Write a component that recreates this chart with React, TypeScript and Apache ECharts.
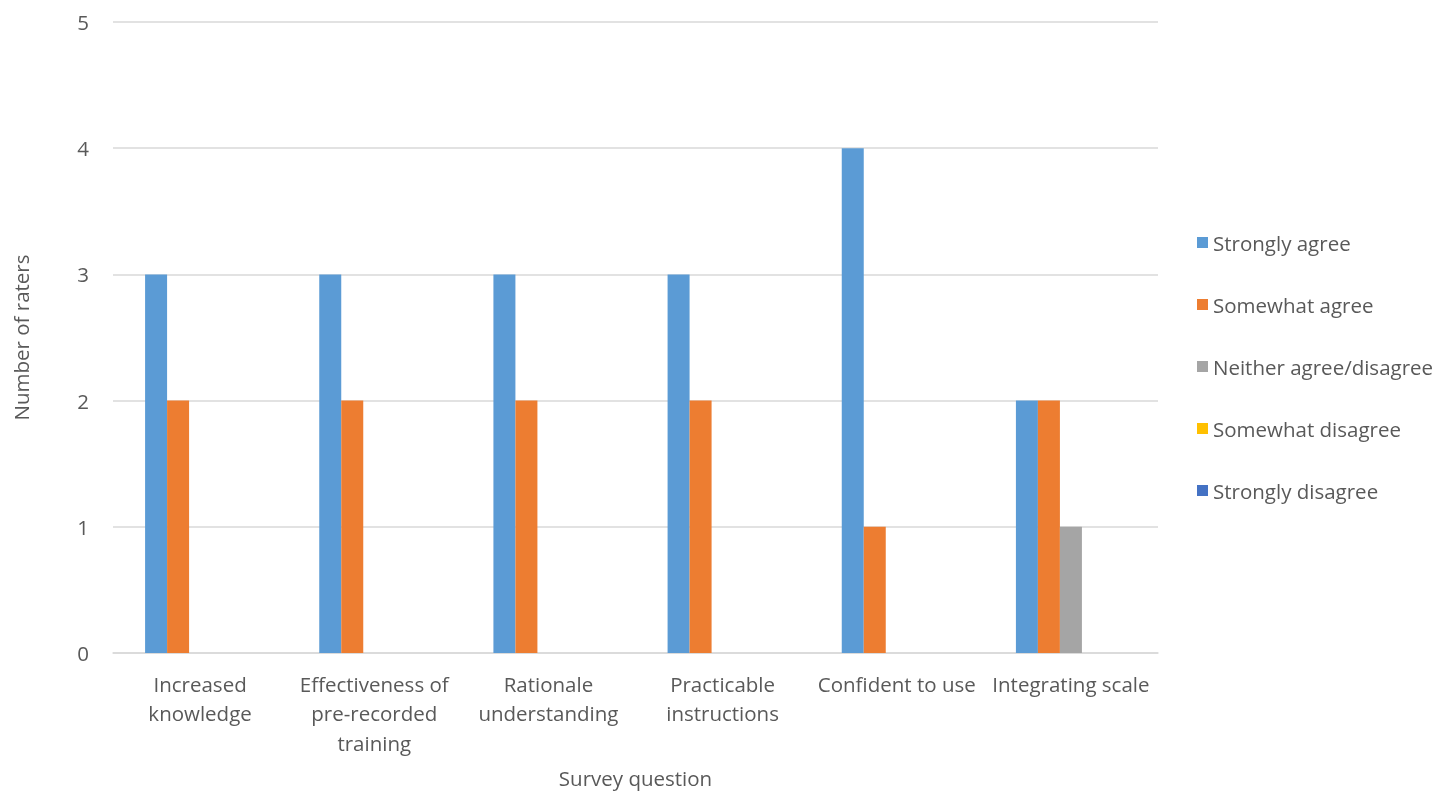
import React, { useEffect, useRef } from "react";
import * as echarts from "echarts";

const categories = [
  "Increased\nknowledge",
  "Effectiveness of\npre-recorded\ntraining",
  "Rationale\nunderstanding",
  "Practicable\ninstructions",
  "Confident to use",
  "Integrating scale",
];
const seriesNames = [
  "Strongly agree",
  "Somewhat agree",
  "Neither agree/disagree",
  "Somewhat disagree",
  "Strongly disagree",
];
const stronglyAgree = [3, 3, 3, 3, 4, 2];
const somewhatAgree = [2, 2, 2, 2, 1, 2];
const neither = [0, 0, 0, 0, 0, 1];
const somewhatDisagree = [0, 0, 0, 0, 0, 0];
const stronglyDisagree = [0, 0, 0, 0, 0, 0];
const colors = ["#5B9BD5", "#ED7D31", "#A5A5A5", "#FFC000", "#4472C4"];

export default function App() {
  const ref = useRef<HTMLDivElement>(null);
  useEffect(() => {
    document.body.style.margin = "0";
    document.body.style.overflow = "hidden";
    const chart = echarts.init(ref.current!, undefined, { renderer: "svg" });
    const font = "'Open Sans', sans-serif";
    const data = [stronglyAgree, somewhatAgree, neither, somewhatDisagree, stronglyDisagree];
    chart.setOption({
      animation: false,
      color: colors,
      textStyle: { fontFamily: font },
      grid: {
        left: 113,
        right: 289,
        top: 22,
        bottom: 138,
        containLabel: false,
        outerBoundsMode: "none",
      },
      legend: {
        orient: "vertical",
        left: 1197,
        top: 232,
        padding: 0,
        itemWidth: 11,
        itemHeight: 11,
        itemGap: 41,
        icon: "rect",
        textStyle: { fontSize: 20.5, color: "#595959", fontFamily: font, lineHeight: 21 },
        data: seriesNames,
      },
      xAxis: {
        type: "category",
        data: categories,
        name: "Survey question",
        nameLocation: "middle",
        nameGap: 114,
        nameTextStyle: { fontSize: 20.5, color: "#595959", fontFamily: font },
        axisLine: { lineStyle: { color: "#D9D9D9", width: 1.5 } },
        axisTick: { show: false },
        axisLabel: {
          interval: 0,
          fontSize: 20.5,
          color: "#595959",
          lineHeight: 29.5,
          margin: 16,
          fontFamily: font,
        },
      },
      yAxis: {
        type: "value",
        min: 0,
        max: 5,
        interval: 1,
        name: "Number of raters",
        nameLocation: "middle",
        nameGap: 82,
        nameRotate: 90,
        nameTextStyle: { fontSize: 20.5, color: "#595959", fontFamily: font },
        axisLine: { show: false },
        axisTick: { show: false },
        axisLabel: { fontSize: 20.5, color: "#595959", margin: 24, fontFamily: font },
        splitLine: { lineStyle: { color: "#D9D9D9", width: 1.5 } },
      },
      series: seriesNames.map((name, i) => ({
        name,
        type: "bar",
        data: data[i],
        barWidth: 22,
        barGap: "0%",
        itemStyle: { color: colors[i] },
      })),
    });
    return () => chart.dispose();
  }, []);
  return (
    <div
      ref={ref}
      style={{ position: "fixed", left: 0, top: 0, width: 1447, height: 791 }}
    />
  );
}
